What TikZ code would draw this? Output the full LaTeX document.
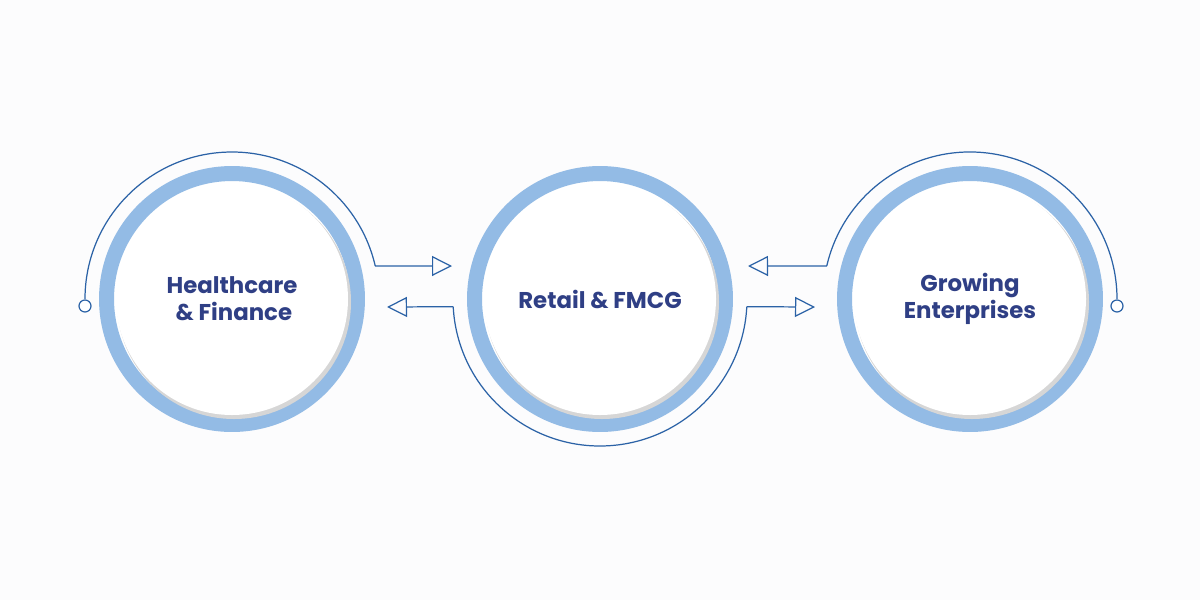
\documentclass[tikz,border=0pt]{standalone}
\usepackage{fontspec}
\setmainfont{Poppins}
\definecolor{ringBlue}{HTML}{93BBE5}
\definecolor{lineBlue}{HTML}{2B62A6}
\definecolor{labelBlue}{HTML}{2F3F85}
\definecolor{pageBg}{HTML}{FCFCFD}
\usetikzlibrary{calc,positioning,arrows.meta}

\begin{document}
\begin{tikzpicture}[x=0.02cm, y=0.02cm,
  ring/.style={circle, draw=ringBlue, line width=0.3cm, fill=white,
    minimum size=5.02cm, inner sep=0pt},
  label/.style={align=center, text=labelBlue,
    font=\fontsize{13}{15.5}\selectfont\bfseries},
  track/.style={draw=lineBlue, line width=0.7pt},
  arr/.style={track, -{Triangle[open, length=0.4cm, width=0.4cm, line width=0.7pt]}}
]
  \fill[pageBg] (0,0) rectangle (1200,600);
  \useasboundingbox (0,0) rectangle (1200,600);

  % circles
  \foreach \cx/\nm in {232/health, 600/retail, 970/growth}{
    \node[ring] (\nm) at (\cx,301) {};
    \fill[black!16] ($(\cx,301)+(2,-3)$) circle (117);
    \fill[white] (\cx,301) circle (116);
  }
  \node[label] at (health) {Healthcare\\\,\& Finance};
  \node[label] at (retail) {Retail \& FMCG};
  \node[label] at (growth) {Growing\\Enterprises};

  % arc end points
  \coordinate (hStart) at ($(health)+(180:147)$);
  \coordinate (hEnd) at ($(health)+(13:147)$);
  \coordinate (hTip) at (452,334);
  \coordinate (rLeft) at ($(retail)+(183:147)$);
  \coordinate (rRight) at ($(retail)+(357:147)$);
  \coordinate (rLeftTip) at (387,293);
  \coordinate (rRightTip) at (815,293);
  \coordinate (gStart) at ($(growth)+(167:147)$);
  \coordinate (gEnd) at ($(growth)+(0:147)$);
  \coordinate (gTip) at (748,334);

  % tracks
  \draw[track] (hStart) arc[start angle=180, end angle=13, radius=147];
  \draw[track, fill=white] ($(hStart)+(0,-7)$) circle (6);
  \draw[arr] (hEnd) -- (hTip);

  \draw[track] (rLeft) arc[start angle=183, end angle=357, radius=147];
  \draw[arr] (rLeft) -- (rLeftTip);
  \draw[arr] (rRight) -- (rRightTip);

  \draw[track] (gStart) arc[start angle=167, end angle=0, radius=147];
  \draw[track, fill=white] ($(gEnd)+(0,-7)$) circle (6);
  \draw[arr] (gStart) -- (gTip);
\end{tikzpicture}
\end{document}
